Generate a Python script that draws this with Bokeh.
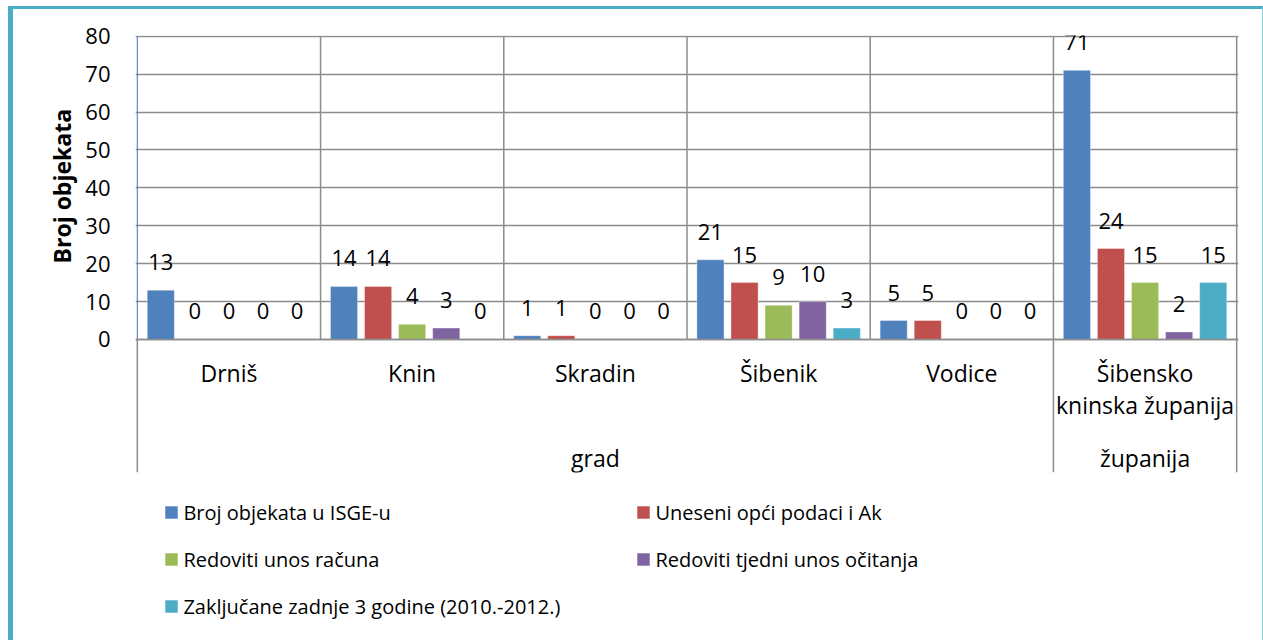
from bokeh.plotting import figure
from bokeh.layouts import column
from bokeh.models import (FactorRange, Range1d, ColumnDataSource, Legend, LegendItem,
                          FixedTicker, Title)
from bokeh.transform import dodge
from bokeh.core.properties import value
from bokeh.embed import file_html
from bokeh.resources import INLINE

# ---- data ----
cities = ["Drniš", "Knin", "Skradin", "Šibenik", "Vodice", "Šibensko\nkninska županija"]
groups = ["grad", "grad", "grad", "grad", "grad", "županija"]
series_names = ["Broj objekata u ISGE-u", "Uneseni opći podaci i Ak", "Redoviti unos računa",
                "Redoviti tjedni unos očitanja", "Zaključane zadnje 3 godine (2010.-2012.)"]
isge = [13, 14, 1, 21, 5, 71]
opci_podaci = [0, 14, 1, 15, 5, 24]
unos_racuna = [0, 4, 0, 9, 0, 15]
unos_ocitanja = [0, 3, 0, 10, 0, 2]
zakljucane = [0, 0, 0, 3, 0, 15]
y_ticks = [0, 10, 20, 30, 40, 50, 60, 70, 80]
y_title = "Broj objekata"

colors = ["#4F81BD", "#C0504D", "#9BBB59", "#8064A2", "#4BACC6"]
GRID = "#8c8c8c"
AXIS_BLUE = "#5B8BCB"
FONT_NAME = "Open Sans"
FONT = value(FONT_NAME)

factors = list(zip(groups, cities))
series = [isge, opci_podaci, unos_racuna, unos_ocitanja, zakljucane]
keys = ["s0", "s1", "s2", "s3", "s4"]
data = dict(x=factors)
for k, vals in zip(keys, series):
    data[k] = vals
    data[k + "_lbl"] = [str(v) for v in vals]
src = ColumnDataSource(data)

bar_w = 0.148
step = 0.186
AXIS_DEPTH = -35.1   # how far the category-axis area reaches below 0 (in y units)

# ---------------- chart ----------------
x_range = FactorRange(*factors, factor_padding=0, group_padding=0,
                      range_padding=0.01, range_padding_units="absolute")
p = figure(x_range=x_range, y_range=Range1d(AXIS_DEPTH, 80.2), width=1249, height=471,
           output_backend="svg", toolbar_location=None, title=None,
           min_border_left=122, min_border_right=24, min_border_top=26, min_border_bottom=8)
p.background_fill_color = "white"
p.border_fill_color = "white"
p.outline_line_color = None

for i, (k, col) in enumerate(zip(keys, colors)):
    off = (i - 2) * step
    p.vbar(x=dodge("x", off, range=p.x_range), top=k, width=bar_w, source=src,
           fill_color=col, line_color="white", line_alpha=0.35, line_width=1)
    p.text(x=dodge("x", off, range=p.x_range), y=k, text=k + "_lbl", source=src,
           text_align="center", text_baseline="middle", y_offset=-28,
           text_font=FONT, text_font_size="22px", text_color="black")

p.xgrid.grid_line_color = None
p.ygrid.grid_line_color = GRID
p.ygrid.grid_line_width = 1.5
p.ygrid.ticker = FixedTicker(ticks=y_ticks)

# category boundaries: inner ones stop at the axis, group edges run through the label area
n = len(cities)
inner = list(range(1, n - 1))
edges = [n - 1, n]
p.segment(x0=inner, x1=inner, y0=[0] * len(inner), y1=[80] * len(inner),
          line_color=GRID, line_width=1.5)
p.segment(x0=edges, x1=edges, y0=[AXIS_DEPTH] * 2, y1=[80] * 2,
          line_color=GRID, line_width=1.5)
p.segment(x0=[0], x1=[0], y0=[AXIS_DEPTH], y1=[0], line_color=GRID, line_width=1.5)
p.segment(x0=[0], x1=[0], y0=[0], y1=[80], line_color=AXIS_BLUE, line_width=1.2)

p.yaxis.ticker = FixedTicker(ticks=y_ticks)
p.yaxis.axis_line_color = None
p.yaxis.major_tick_line_color = None
p.yaxis.minor_tick_line_color = None
p.yaxis.major_tick_out = 0
p.yaxis.major_tick_in = 0
p.yaxis.major_label_standoff = 25
p.yaxis.major_label_text_font = FONT_NAME
p.yaxis.major_label_text_font_size = "22px"
p.yaxis.major_label_text_color = "black"

# y-axis title as a side title, placed over the 0-80 part of the frame
ytitle = Title(text=y_title, align="left", offset=209, standoff=10,
               text_font=FONT_NAME, text_font_size="23px", text_font_style="bold",
               text_color="black")
p.add_layout(ytitle, "left")

p.xaxis.fixed_location = 0
p.xaxis.axis_line_color = GRID
p.xaxis.axis_line_width = 1.5
p.xaxis.major_tick_line_color = None
p.xaxis.major_tick_out = 0
p.xaxis.major_tick_in = 0
p.xaxis.major_label_standoff = 18
p.xaxis.major_label_text_font = FONT_NAME
p.xaxis.major_label_text_font_size = "23px"
p.xaxis.major_label_text_line_height = 1.0
p.xaxis.major_label_text_color = "black"
p.xaxis.group_text_font = FONT_NAME
p.xaxis.group_text_font_size = "23px"
p.xaxis.group_text_font_style = "normal"
p.xaxis.group_text_color = "black"
p.xaxis.separator_line_color = None

# ---------------- legend strip ----------------
lx_range = FactorRange(*factors, factor_padding=0, group_padding=0)
pl = figure(x_range=lx_range, y_range=Range1d(500, 501), width=1249, height=160,
            output_backend="svg", toolbar_location=None, title=None,
            x_axis_location=None, y_axis_location=None,
            min_border_left=122, min_border_right=24, min_border_top=0, min_border_bottom=0)
pl.outline_line_color = None
pl.grid.grid_line_color = None
pl.background_fill_color = "white"
pl.border_fill_color = "white"
items = []
for i, (k, col, name) in enumerate(zip(keys, colors, series_names)):
    off = (i - 2) * step
    r = pl.vbar(x=dodge("x", off, range=pl.x_range), top=k, width=bar_w, source=src,
                fill_color=col, line_color="white", line_alpha=0.35, line_width=1)
    items.append(LegendItem(label=name, renderers=[r]))

legend = Legend(items=items, orientation="horizontal", ncols=2,
                location=(28.4, 20.5), margin=0, padding=0, spacing=20,
                glyph_width=16, glyph_height=16, label_standoff=4,
                label_width=432, label_height=27,
                label_text_font=FONT_NAME, label_text_font_size="20px", label_text_color="black",
                border_line_color=None, background_fill_alpha=0)
pl.add_layout(legend)

layout = column(p, pl, spacing=0)
layout.styles = {"margin-left": "8px", "margin-top": "6px",
                 "border-left": "5px solid #4BACC6", "border-top": "3px solid #4BACC6",
                 "border-right": "1px solid #92CDDC"}

open("out.html", "w").write(file_html(layout, INLINE))
